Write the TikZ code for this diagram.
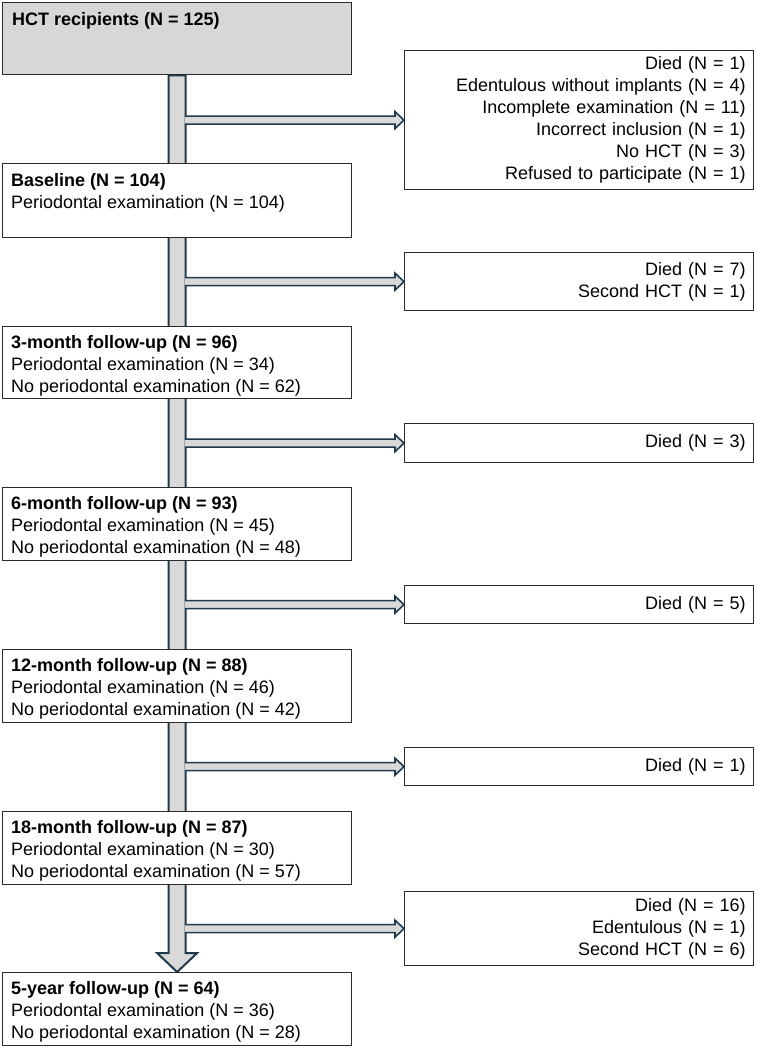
\documentclass[tikz,border=0pt]{standalone}
\usepackage{fontspec}
\setmainfont{Liberation Sans}
\usetikzlibrary{calc,backgrounds}
\definecolor{boxline}{HTML}{2B2B2B}
\definecolor{arrline}{HTML}{1F3A4B}
\definecolor{arrfill}{HTML}{D9D9D9}
\definecolor{topfill}{HTML}{D7D7D7}
\begin{document}
\begin{tikzpicture}[x=1pt,y=-1pt,
  mainbox/.style={draw=boxline, line width=1.3pt, fill=white, rectangle,
    minimum width=349pt, inner sep=0pt, anchor=north west},
  sidebox/.style={draw=boxline, line width=1.3pt, fill=white, rectangle,
    minimum width=349pt, inner xsep=8pt, inner ysep=0pt, text width=333pt,
    align=right, anchor=north west, font=\fontsize{18}{22}\selectfont},
  lbl/.style={anchor=north west, inner sep=0pt, align=left,
    font=\fontsize{18}{22}\selectfont},
  flow/.style={draw=arrline, line width=2pt, fill=arrfill, line join=miter},
  side/.style={draw=arrline, line width=1.6pt, fill=arrfill, line join=miter},
]
\useasboundingbox (0,0) rectangle (756,1048);

% main boxes
\node[mainbox, fill=topfill, minimum height=72pt] (b0) at (2,2) {};
\node[mainbox, minimum height=74pt] (b1) at (2,163) {};
\node[mainbox, minimum height=72pt] (b2) at (2,326) {};
\node[mainbox, minimum height=73pt] (b3) at (2,487) {};
\node[mainbox, minimum height=73pt] (b4) at (2,649) {};
\node[mainbox, minimum height=73pt] (b5) at (2,811) {};
\node[mainbox, minimum height=73pt] (b6) at (2,972) {};

\node[lbl] (t0) at ($(b0.north west)+(10,7.6)$) {\strut\textbf{HCT recipients (N = 125)}};
\node[lbl] (t1) at ($(b1.north west)+(9,7.6)$) {\strut\textbf{Baseline (N = 104)}\\Periodontal examination (N = 104)};
\node[lbl] (t2) at ($(b2.north west)+(9,6.6)$) {\strut\textbf{3-month follow-up (N = 96)}\\Periodontal examination (N = 34)\\No periodontal examination (N = 62)};
\node[lbl] (t3) at ($(b3.north west)+(9,6.6)$) {\strut\textbf{6-month follow-up (N = 93)}\\Periodontal examination (N = 45)\\No periodontal examination (N = 48)};
\node[lbl] (t4) at ($(b4.north west)+(9,6.6)$) {\strut\textbf{12-month follow-up (N = 88)}\\Periodontal examination (N = 46)\\No periodontal examination (N = 42)};
\node[lbl] (t5) at ($(b5.north west)+(9,6.6)$) {\strut\textbf{18-month follow-up (N = 87)}\\Periodontal examination (N = 30)\\No periodontal examination (N = 57)};
\node[lbl] (t6) at ($(b6.north west)+(9,6.6)$) {\strut\textbf{5-year follow-up (N = 64)}\\Periodontal examination (N = 36)\\No periodontal examination (N = 28)};

% side boxes
\node[sidebox, minimum height=139pt] (s1) at (404,50) {Died (N = 1)\\Edentulous without implants (N = 4)\\Incomplete examination (N = 11)\\Incorrect inclusion (N = 1)\\No HCT (N = 3)\\Refused to participate (N = 1)};
\node[sidebox, minimum height=58pt] (s2) at (404,252) {Died (N = 7)\\Second HCT (N = 1)};
\node[sidebox, minimum height=39pt] (s3) at (404,423) {Died (N = 3)};
\node[sidebox, minimum height=38pt] (s4) at (404,585) {Died (N = 5)};
\node[sidebox, minimum height=38pt] (s5) at (404,747) {Died (N = 1)};
\node[sidebox, minimum height=74pt] (s6) at (404,891) {Died (N = 16)\\Edentulous (N = 1)\\Second HCT (N = 6)};

\begin{scope}[on background layer]
  % main shaft with arrowhead
  \path[flow] ($(b0.south)+(-8.5,0)$) -- ($(b6.north)+(-8.5,-19)$)
    -- ($(b6.north)+(-20,-19)$) -- (b6.north) -- ($(b6.north)+(20,-19)$)
    -- ($(b6.north)+(8.5,-19)$) -- ($(b0.south)+(8.5,0)$) -- cycle;
  % side arrows
  \foreach \s in {s1,s2,s3,s4,s5,s6}{
    \path[side] ($(b0.south |- \s.west)+(7.8,-4)$) -- ($(\s.west)+(-9,-4)$)
      -- ($(\s.west)+(-9,-8.5)$) -- (\s.west) -- ($(\s.west)+(-9,8.5)$)
      -- ($(\s.west)+(-9,4)$) -- ($(b0.south |- \s.west)+(7.8,4)$);
  }
\end{scope}
\end{tikzpicture}
\end{document}
